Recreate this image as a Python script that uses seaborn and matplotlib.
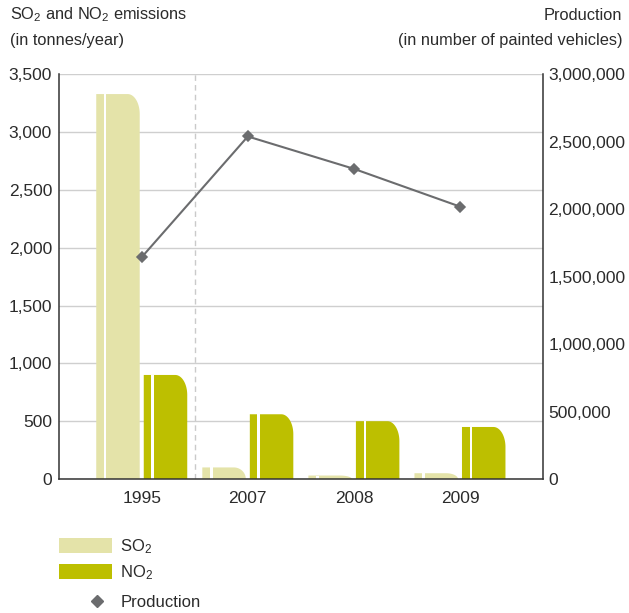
import numpy as np
import pandas as pd
import matplotlib
matplotlib.use("Agg")
import matplotlib.pyplot as plt
import seaborn as sns
from matplotlib import font_manager
from matplotlib.path import Path
from matplotlib.patches import PathPatch, Rectangle, Patch
from matplotlib.lines import Line2D
from matplotlib.legend_handler import HandlerLine2D
from matplotlib.ticker import FuncFormatter

# ---- data -------------------------------------------------------------
years = ["1995", "2007", "2008", "2009"]
so2 = [3330, 100, 30, 50]                         # tonnes/year
no2 = [900, 560, 500, 450]                        # tonnes/year
production = [1645000, 2540000, 2300000, 2020000]  # painted vehicles
emission_ticks = [0, 500, 1000, 1500, 2000, 2500, 3000, 3500]
production_ticks = [0, 500000, 1000000, 1500000, 2000000, 2500000, 3000000]
gas_labels = ["SO$_2$", "NO$_2$"]

# ---- style ------------------------------------------------------------
SO2_COLOR = "#e4e3a9"
NO2_COLOR = "#bdbf00"
LINE_COLOR = "#6b6c6e"
TEXT_COLOR = "#2b2b2b"
SPINE_COLOR = "#333333"
GRID_COLOR = "#cfcfcf"

sns.set_theme(style="white")
installed = {f.name for f in font_manager.fontManager.ttflist}
base_font = "Liberation Sans Narrow" if "Liberation Sans Narrow" in installed else "Liberation Sans"
plt.rcParams["font.family"] = [base_font, "DejaVu Sans"]
plt.rcParams["mathtext.fontset"] = "custom"
for key in ("mathtext.rm", "mathtext.it", "mathtext.bf", "mathtext.sf"):
    plt.rcParams[key] = base_font
plt.rcParams["mathtext.default"] = "regular"
FS = 12.5        # tick labels
FS_TITLE = 11.8  # axis titles
FS_LEG = 12.0    # legend

fig = plt.figure(figsize=(6.29, 6.13), dpi=100)
ax = fig.add_axes([0.0938, 0.2186, 0.769, 0.66])

df = pd.DataFrame({
    "year": years * 2,
    "gas": [gas_labels[0]] * len(years) + [gas_labels[1]] * len(years),
    "value": so2 + no2,
})
sns.barplot(data=df, x="year", y="value", hue="gas",
            palette=[SO2_COLOR, NO2_COLOR], saturation=1,
            width=0.896, gap=0.085, legend=False, ax=ax, zorder=2)

# reshape each bar: narrow strip, white slit, body with rounded top-right corner
RX, RY = 0.113, 173.0
bars = list(ax.patches)
for p in bars:
    x0, w, h = p.get_x(), p.get_width(), p.get_height()
    fc = p.get_facecolor()
    p.remove()
    if h <= 0:
        continue
    x1 = x0 + w
    ry = min(RY, h)
    theta = np.linspace(np.pi / 2, 0, 24)
    arc = list(zip((x1 - RX) + RX * np.cos(theta), (h - ry) + ry * np.sin(theta)))
    verts = [(x0, 0), (x0, h)] + arc + [(x1, 0), (x0, 0)]
    codes = [Path.MOVETO] + [Path.LINETO] * (len(verts) - 2) + [Path.CLOSEPOLY]
    ax.add_patch(PathPatch(Path(verts, codes), facecolor=fc, edgecolor="none", zorder=2))
    ax.add_patch(Rectangle((x0 + 0.175 * w, 0), 0.06 * w, h,
                           facecolor="white", edgecolor="none", zorder=2.1))

ax.axvline(0.5, color="#cacaca", lw=1.0, ls=(0, (4, 3)), zorder=1.5)

ax.set_ylim(0, 3500)
ax.set_yticks(emission_ticks)
ax.yaxis.set_major_formatter(FuncFormatter(lambda v, _: f"{int(v):,}"))
ax.set_axisbelow(True)
ax.yaxis.grid(True, color=GRID_COLOR, lw=1.0)
ax.xaxis.grid(False)
ax.set_xlabel("")
ax.set_ylabel("")

# production on the secondary axis
ax2 = ax.twinx()
sns.pointplot(x=years, y=production, ax=ax2, color=LINE_COLOR, marker="D",
              markersize=5.5, linewidth=1.5, errorbar=None)
ax2.set_ylim(0, 3000000)
ax2.set_yticks(production_ticks)
ax2.yaxis.set_major_formatter(FuncFormatter(lambda v, _: f"{int(v):,}"))
ax2.grid(False)
ax2.set_xlabel("")
ax2.set_ylabel("")

for a in (ax, ax2):
    a.set_xlim(-0.78, 3.78)
    for s in a.spines.values():
        s.set_visible(False)
    a.tick_params(length=0, labelsize=FS, labelcolor=TEXT_COLOR)
ax.spines["left"].set_visible(True)
ax.spines["bottom"].set_visible(True)
ax2.spines["right"].set_visible(True)
for s in (ax.spines["left"], ax.spines["bottom"], ax2.spines["right"]):
    s.set_color(SPINE_COLOR)
    s.set_linewidth(1.1)
ax.tick_params(axis="y", pad=5)
ax.tick_params(axis="x", pad=9)
ax2.tick_params(axis="y", pad=4)

# axis titles
fig.text(10 / 629, 1 - 15 / 613, "SO$_2$ and NO$_2$ emissions", fontsize=FS_TITLE,
         color=TEXT_COLOR, ha="left", va="center")
fig.text(10 / 629, 1 - 41 / 613, "(in tonnes/year)", fontsize=FS_TITLE,
         color=TEXT_COLOR, ha="left", va="center")
fig.text(622 / 629, 1 - 15 / 613, "Production", fontsize=FS_TITLE,
         color=TEXT_COLOR, ha="right", va="center")
fig.text(622 / 629, 1 - 41 / 613, "(in number of painted vehicles)", fontsize=FS_TITLE,
         color=TEXT_COLOR, ha="right", va="center")


class OffsetMarkerHandler(HandlerLine2D):
    """Single legend marker placed toward the right of the handle box."""

    def get_xdata(self, legend, xdescent, ydescent, width, height, fontsize):
        xm = -xdescent + 0.72 * width
        return np.array([xm, xm]), np.array([xm])


leg_kw = dict(frameon=False, fontsize=FS_LEG, handlelength=3.18, handleheight=1.05,
              handletextpad=0.5, labelspacing=0.45, borderpad=0, borderaxespad=0)

gas_handles = [
    Patch(facecolor=SO2_COLOR, edgecolor="none", label=gas_labels[0]),
    Patch(facecolor=NO2_COLOR, edgecolor="none", label=gas_labels[1]),
]
leg1 = fig.legend(handles=gas_handles, loc="upper left",
                  bbox_to_anchor=(59 / 629, 1 - 537 / 613), **leg_kw)

prod_handle = Line2D([], [], ls="none", marker="D", markersize=6, color=LINE_COLOR,
                     label="Production")
leg2 = fig.legend(handles=[prod_handle], loc="center left",
                  bbox_to_anchor=(59 / 629, 1 - 602 / 613),
                  handler_map={prod_handle: OffsetMarkerHandler(numpoints=1)}, **leg_kw)
for lg in (leg1, leg2):
    for t in lg.get_texts():
        t.set_color(TEXT_COLOR)

fig.savefig("out.png", dpi=100)
